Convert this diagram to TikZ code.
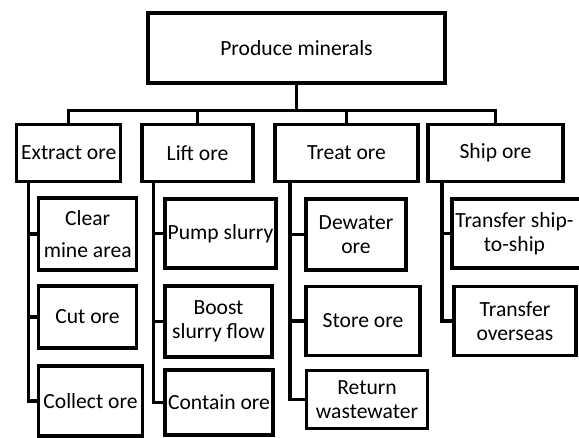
\documentclass[tikz,border=0pt]{standalone}
\usepackage{fontspec}
\setmainfont{Carlito}
\begin{document}
\begin{tikzpicture}[x=1pt,y=-1pt,
  box/.style={draw=black, line width=3.4pt, rectangle, inner sep=0pt, align=center,
    font=\fontsize{21.6}{24}\selectfont},
  link/.style={draw=black, line width=3.4pt}]
\useasboundingbox (0,0) rectangle (579,437);
% top
\node[box, minimum width=297, minimum height=70] (top) at (296.5,48) {Produce minerals};
% level 1
\node[box, minimum width=104, minimum height=57.5] (extract) at (68.7,153) {Extract ore};
\node[box, minimum width=111, minimum height=57.5] (lift) at (197.5,153) {Lift ore};
\node[box, minimum width=143, minimum height=57.5] (treat) at (346.5,153) {Treat ore};
\node[box, minimum width=135, minimum height=57.5] (ship) at (495.5,153) {Ship ore};
% column 1
\node[box, minimum width=98, minimum height=72] (clear) at (87.7,234) {Clear\\[8pt]mine area};
\node[box, minimum width=98, minimum height=62] (cut) at (87.5,317) {Cut ore};
\node[box, minimum width=104, minimum height=70] (collect) at (90.5,401) {Collect ore};
% column 2
\node[box, minimum width=111, minimum height=69] (pump) at (220.5,233.5) {Pump slurry};
\node[box, minimum width=107, minimum height=71] (boost) at (218.5,321.5) {Boost\\slurry flow};
\node[box, minimum width=108, minimum height=65] (contain) at (219,402.5) {Contain ore};
% column 3
\node[box, minimum width=100, minimum height=71] (dewater) at (356,234.5) {Dewater\\ore};
\node[box, minimum width=114, minimum height=68.5] (store) at (363,321) {Store ore};
\node[box, minimum width=121, minimum height=58] (return) at (367,399.5) {Return\\wastewater};
% column 4
\node[box, minimum width=132, minimum height=69] (tship) at (518,233.5) {\hspace*{-7pt}Transfer ship-\\\hspace*{-7pt}to-ship};
\node[box, minimum width=122, minimum height=68.5] (toverseas) at (515,321) {Transfer\\overseas};
% bus
\coordinate (bus) at (296.5,110.5);
\draw[link] (top.south) -- (bus);
\draw[link] (extract.north) |- (bus);
\draw[link] (ship.north) |- (bus);
\draw[link] (lift.north) -- (lift.north |- bus);
\draw[link] (treat.north) -- (treat.north |- bus);
% spines
\coordinate (s1) at (28.3,181.7);
\coordinate (s2) at (153.3,181.7);
\coordinate (s3) at (290,181.7);
\coordinate (s4) at (442,181.7);
\draw[link] (s1) |- (clear.west);
\draw[link] (s1) |- (cut.west);
\draw[link] (s1) |- (collect.west);
\draw[link] (s2) |- (pump.west);
\draw[link] (s2) |- (boost.west);
\draw[link] (s2) |- (contain.west);
\draw[link] (s3) |- (dewater.west);
\draw[link] (s3) |- (store.west);
\draw[link] (s3) |- (return.west);
\draw[link] (s4) |- (tship.west);
\draw[link] (s4) |- (toverseas.west);
\end{tikzpicture}
\end{document}
